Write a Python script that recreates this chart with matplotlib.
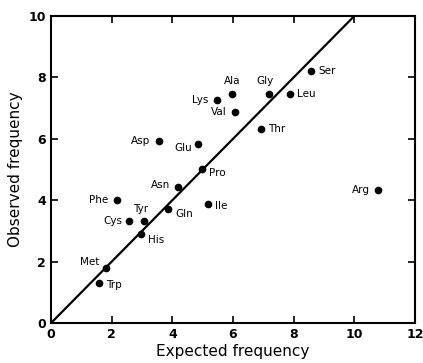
import matplotlib
matplotlib.use("Agg")
import matplotlib.pyplot as plt

names = ["Ser", "Ala", "Lys", "Val", "Gly", "Leu", "Thr", "Asp", "Glu", "Pro",
         "Asn", "Phe", "Ile", "Gln", "Tyr", "Cys", "His", "Met", "Trp", "Arg"]
expected = [8.58, 5.96, 5.47, 6.08, 7.20, 7.88, 6.92, 3.56, 4.85, 4.98,
            4.17, 2.17, 5.19, 3.87, 3.08, 2.57, 2.98, 1.82, 1.57, 10.78]
observed = [8.21, 7.46, 7.26, 6.86, 7.46, 7.46, 6.31, 5.93, 5.83, 5.02,
            4.44, 4.00, 3.87, 3.72, 3.31, 3.31, 2.90, 1.80, 1.29, 4.33]
xticks = [0, 2, 4, 6, 8, 10, 12]
yticks = [0, 2, 4, 6, 8, 10]

# label offsets (points) and alignment per amino acid
offsets = {
    "Ser": (5, 0, "left", "center"), "Ala": (0, 6, "center", "bottom"),
    "Lys": (-6, 0, "right", "center"), "Val": (-6, 0, "right", "center"),
    "Gly": (-3, 6, "center", "bottom"), "Leu": (5, 0, "left", "center"),
    "Thr": (5, 0, "left", "center"), "Asp": (-6, 0, "right", "center"),
    "Glu": (-4, -3, "right", "center"), "Pro": (5, -3, "left", "center"),
    "Asn": (-5, 1, "right", "center"), "Phe": (-6, 0, "right", "center"),
    "Ile": (5, -1, "left", "center"), "Gln": (5, -4, "left", "center"),
    "Tyr": (-3, 5, "center", "bottom"), "Cys": (-5, 0, "right", "center"),
    "His": (5, -4, "left", "center"), "Met": (-5, 4, "right", "center"),
    "Trp": (5, -1, "left", "center"), "Arg": (-6, 0, "right", "center"),
}

fig = plt.figure(figsize=(4.23, 3.63), dpi=100)
ax = fig.add_axes([0.1206, 0.110, 0.8605, 0.846])

ax.plot([0, 10], [0, 10], color="black", lw=1.6)
ax.plot(expected, observed, "o", color="black", ms=4.5)
for n, x, y in zip(names, expected, observed):
    dx, dy, ha, va = offsets[n]
    ax.annotate(n, (x, y), xytext=(dx, dy), textcoords="offset points",
                ha=ha, va=va, fontsize=7.5)

ax.set_xlim(0, 12)
ax.set_ylim(0, 10)
ax.set_xticks(xticks)
ax.set_yticks(yticks)
ax.tick_params(direction="in", top=True, right=True, length=5, width=1.2,
               labelsize=9)
for lab in ax.get_xticklabels() + ax.get_yticklabels():
    lab.set_fontweight("bold")
for s in ax.spines.values():
    s.set_linewidth(1.5)
ax.set_xlabel("Expected frequency", fontsize=11, labelpad=2)
ax.set_ylabel("Observed frequency", fontsize=11, labelpad=4)

fig.savefig("out.png", dpi=100)
